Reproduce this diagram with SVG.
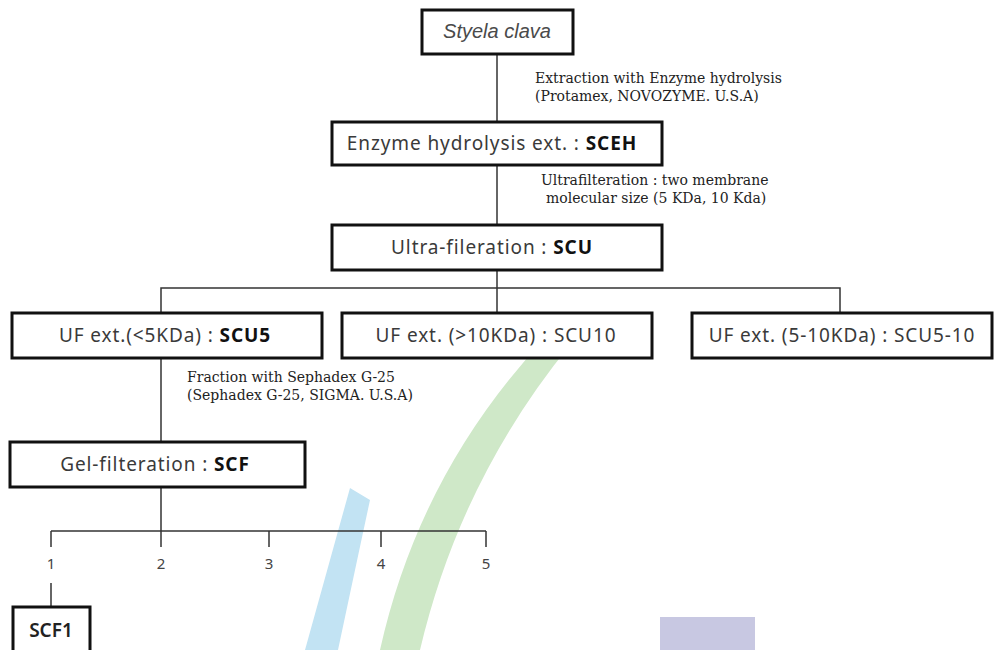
<svg xmlns="http://www.w3.org/2000/svg" width="994" height="650" viewBox="0 0 994 650">
  <style>
    .box { fill: #ffffff; stroke: #111111; stroke-width: 3; }
    .lbl { font-family: "Noto Sans", "Liberation Sans", sans-serif; font-size: 19px; letter-spacing: 0.9px; fill: #3a3a3a; text-anchor: middle; }
    .b { font-weight: 700; fill: #111111; }
    .ann { font-family: "DejaVu Serif", "Liberation Serif", serif; font-size: 14px; fill: #222222; }
    .num { font-family: "Noto Sans", "Liberation Sans", sans-serif; font-size: 15px; fill: #444444; text-anchor: middle; }
    .conn line, .conn polyline { stroke: #333333; stroke-width: 1.5; fill: none; }
  </style>

  <rect x="0" y="0" width="994" height="650" fill="#ffffff"/>

  <g id="watermark">
    <path d="M 548 335 Q 420 470 380 650 L 420 650 Q 460 480 570 345 Z" fill="#cfe8c8"/>
    <path d="M 350 488 Q 330 560 305 650 L 338 650 Q 355 570 370 500 Z" fill="#c2e3f3"/>
    <rect x="660" y="617" width="95" height="40" fill="#c8c8e2"/>
  </g>

  <g id="connectors" class="conn">
    <line x1="497" y1="54" x2="497" y2="122"/>
    <line x1="497" y1="165" x2="497" y2="225"/>
    <line x1="497" y1="270" x2="497" y2="313"/>
    <polyline points="161,313 161,288 840,288 840,313"/>
    <line x1="161" y1="358" x2="161" y2="442"/>
    <line x1="161" y1="487" x2="161" y2="531"/>
    <line x1="51" y1="531" x2="486" y2="531"/>
    <line x1="51" y1="531" x2="51" y2="547"/>
    <line x1="161" y1="531" x2="161" y2="547"/>
    <line x1="269" y1="531" x2="269" y2="547"/>
    <line x1="381" y1="531" x2="381" y2="547"/>
    <line x1="486" y1="531" x2="486" y2="547"/>
    <line x1="51" y1="583" x2="51" y2="607"/>
  </g>

  <g id="annotations">
    <text class="ann" x="535" y="83">Extraction with Enzyme hydrolysis</text>
    <text class="ann" x="535" y="101">(Protamex, NOVOZYME. U.S.A)</text>
    <text class="ann" x="541" y="185">Ultrafilteration  : two membrane</text>
    <text class="ann" x="546" y="203">molecular size (5 KDa, 10 Kda)</text>
    <text class="ann" x="187" y="382">Fraction with Sephadex G-25</text>
    <text class="ann" x="187" y="400">(Sephadex G-25, SIGMA. U.S.A)</text>
  </g>

  <g id="n-styela">
    <rect class="box" x="422" y="10" width="151" height="44"/>
    <text x="497" y="38" text-anchor="middle" style="font-style:italic; font-family:'Liberation Sans', sans-serif; font-size:20px; fill:#4a4a4a;">Styela clava</text>
  </g>

  <g id="n-sceh">
    <rect class="box" x="332" y="122" width="330" height="43"/>
    <text class="lbl" x="492" y="150">Enzyme hydrolysis  ext. : <tspan class="b">SCEH</tspan></text>
  </g>

  <g id="n-scu">
    <rect class="box" x="332" y="225" width="330" height="45"/>
    <text class="lbl" x="492" y="254">Ultra-fileration  : <tspan class="b">SCU</tspan></text>
  </g>

  <g id="n-scu5">
    <rect class="box" x="12" y="313" width="310" height="45"/>
    <text class="lbl" x="165" y="342">UF ext.(&lt;5KDa) : <tspan class="b">SCU5</tspan></text>
  </g>

  <g id="n-scu10">
    <rect class="box" x="342" y="313" width="310" height="45"/>
    <text class="lbl" x="496" y="342">UF ext. (&gt;10KDa) : SCU10</text>
  </g>

  <g id="n-scu510">
    <rect class="box" x="692" y="313" width="300" height="45"/>
    <text class="lbl" x="842" y="342">UF ext. (5-10KDa) : SCU5-10</text>
  </g>

  <g id="n-scf">
    <rect class="box" x="10" y="442" width="295" height="45"/>
    <text class="lbl" x="155" y="471">Gel-filteration : <tspan class="b">SCF</tspan></text>
  </g>

  <g id="fractions">
    <text class="num" x="51" y="569">1</text>
    <text class="num" x="161" y="569">2</text>
    <text class="num" x="269" y="569">3</text>
    <text class="num" x="381" y="569">4</text>
    <text class="num" x="486" y="569">5</text>
  </g>

  <g id="n-scf1">
    <rect class="box" x="13" y="607" width="77" height="50"/>
    <text class="lbl" x="51" y="637" style="fill:#222222; font-weight:600; letter-spacing:0;">SCF1</text>
  </g>
</svg>
